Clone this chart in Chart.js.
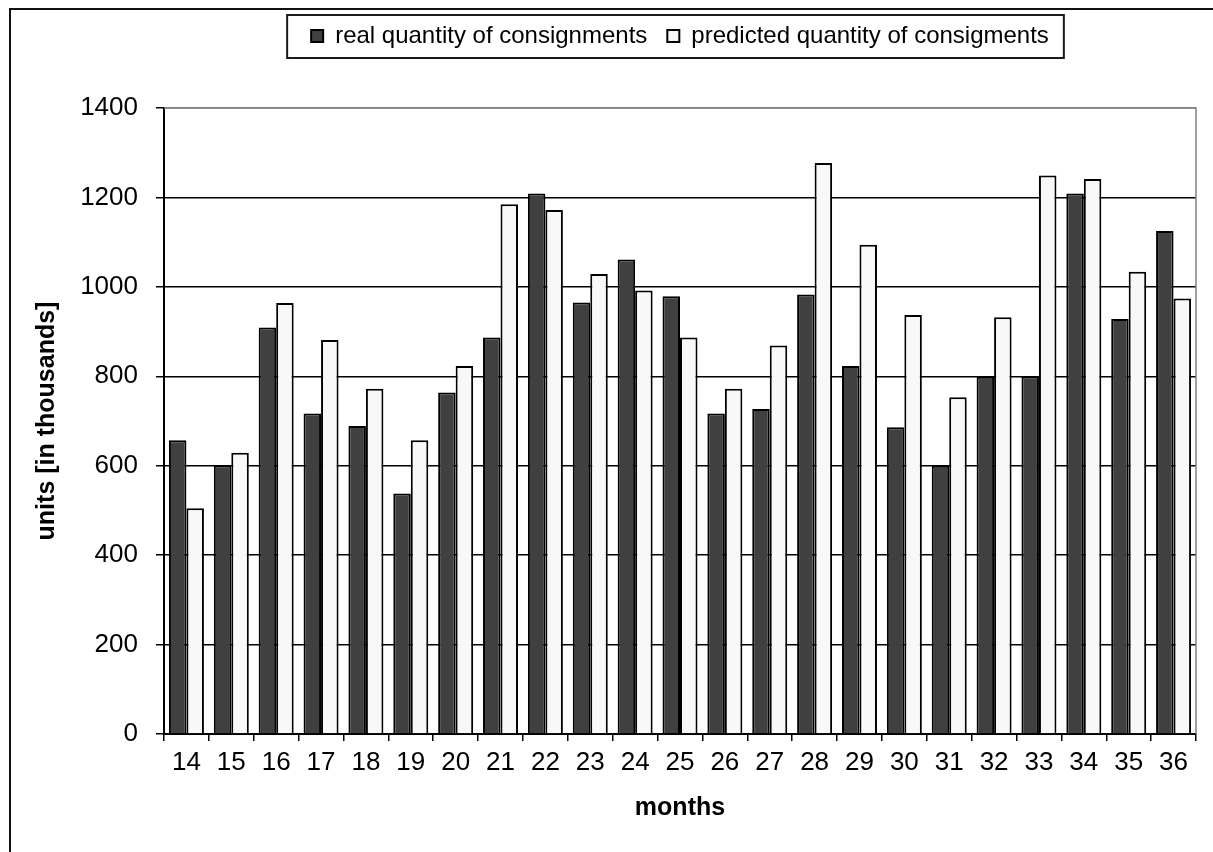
<!DOCTYPE html>
<html>
<head>
<meta charset="utf-8">
<script src="https://cdn.jsdelivr.net/npm/chart.js@4.4.1/dist/chart.umd.min.js"></script>
<style>
  html, body { margin: 0; padding: 0; background: #ffffff; }
  #wrap { position: relative; width: 1213px; height: 852px; }
</style>
</head>
<body>
<div id="wrap"><canvas id="c" width="1213" height="852"></canvas></div>
<script>
// ---- data ----
const months = ['14','15','16','17','18','19','20','21','22','23','24','25','26','27','28','29','30','31','32','33','34','35','36'];
const realQuantity = [657, 601, 909, 717, 689, 538, 764, 887, 1209, 965, 1061, 979, 717, 727, 983, 823, 686, 600, 799, 800, 1209, 928, 1125];
const predictedQuantity = [505, 629, 964, 881, 772, 657, 823, 1185, 1172, 1029, 992, 887, 772, 869, 1277, 1094, 937, 753, 932, 1249, 1241, 1034, 974];
const seriesLabels = ['real quantity of consignments', 'predicted quantity of consigments'];
const yTickMin = 0;
const yTickMax = 1400;
const yTickStep = 200;
const axisTitles = { x: 'months', y: 'units [in thousands]' };

// ---- layout constants ----
const PAD = { left: 12, right: 17, top: 4, bottom: 0 };
const PLOT = { left: 164, right: 1196, top: 108, bottom: 734 };
const FONT = "'Liberation Sans', Arial, sans-serif";

const decorPlugin = {
  id: 'decor',
  beforeLayout(chart) {
    const lg = chart.legend;
    if (lg && !lg._patchedFit) {
      const origFit = Object.getPrototypeOf(lg).fit;
      lg.fit = function () {
        origFit.call(this);
        if (this.options.display) this.height = PLOT.top - PAD.top;
      };
      lg._patchedFit = true;
    }
  },
  afterDraw(chart) {
    const ctx = chart.ctx;
    const ca = chart.chartArea;
    ctx.save();
    // plot area top/right border (gray)
    ctx.strokeStyle = '#808080';
    ctx.lineWidth = 1.5;
    ctx.beginPath();
    ctx.moveTo(ca.left, ca.top);
    ctx.lineTo(ca.right, ca.top);
    ctx.lineTo(ca.right, ca.bottom);
    ctx.stroke();
    // legend frame
    const lg = chart.legend;
    if (lg && lg.legendHitBoxes && lg.legendHitBoxes.length) {
      const hb = lg.legendHitBoxes;
      let l = Infinity, r = -Infinity, t = Infinity, b = -Infinity;
      hb.forEach(h => {
        l = Math.min(l, h.left); r = Math.max(r, h.left + h.width);
        t = Math.min(t, h.top); b = Math.max(b, h.top + h.height);
      });
      ctx.strokeStyle = '#1a1a1a';
      ctx.lineWidth = 2;
      ctx.strokeRect(l - 24, t - 9, (r + 15) - (l - 24), (b + 10) - (t - 9));
    }
    // outer chart frame (runs off the right and bottom edges)
    ctx.strokeStyle = '#111';
    ctx.lineWidth = 2;
    ctx.strokeRect(10, 9, 1400, 1000);
    ctx.restore();
  }
};

new Chart(document.getElementById('c'), {
  type: 'bar',
  data: {
    labels: months,
    datasets: [
      {
        label: seriesLabels[0],
        data: realQuantity,
        backgroundColor: '#404040',
        borderColor: '#000000',
        borderWidth: 2,
        categoryPercentage: 0.78,
        barPercentage: 1.0
      },
      {
        label: seriesLabels[1],
        data: predictedQuantity,
        backgroundColor: '#f8f8f8',
        borderColor: '#000000',
        borderWidth: 2,
        categoryPercentage: 0.78,
        barPercentage: 1.0
      }
    ]
  },
  options: {
    responsive: false,
    animation: false,
    devicePixelRatio: 1,
    layout: { padding: PAD },
    plugins: {
      tooltip: { enabled: false },
      legend: {
        display: true,
        position: 'top',
        fullSize: false,
        align: 'center',
        labels: {
          font: { family: FONT, size: 24 },
          color: '#000',
          boxWidth: 12,
          boxHeight: 12,
          padding: 20
        }
      }
    },
    scales: {
      x: {
        offset: true,
        afterFit(s) { s.height = 852 - PLOT.bottom - PAD.bottom; },
        grid: {
          display: true,
          offset: true,
          drawOnChartArea: false,
          drawTicks: true,
          tickLength: 7,
          color: '#000',
          lineWidth: 1.5
        },
        border: { display: true, color: '#000', width: 2 },
        ticks: {
          font: { family: FONT, size: 26 },
          color: '#000',
          padding: 6,
          maxRotation: 0,
          autoSkip: false
        },
        title: {
          display: true,
          text: axisTitles.x,
          font: { family: FONT, size: 25, weight: 'bold' },
          color: '#000',
          padding: { top: 0, bottom: 29 }
        }
      },
      y: {
        min: yTickMin,
        max: yTickMax,
        afterFit(s) { s.width = PLOT.left - PAD.left; },
        grid: {
          display: true,
          drawOnChartArea: true,
          drawTicks: true,
          tickLength: 8,
          color: (c) => (c.tick && c.tick.value === yTickMax) ? '#808080' : '#000',
          tickColor: '#000',
          lineWidth: 1.5
        },
        border: { display: true, color: '#000', width: 2 },
        ticks: {
          stepSize: yTickStep,
          font: { family: FONT, size: 26 },
          color: '#000',
          padding: 18,
          callback: (v) => String(v)
        },
        title: {
          display: true,
          text: axisTitles.y,
          font: { family: FONT, size: 25, weight: 'bold' },
          color: '#000',
          padding: { top: 20, bottom: 0 }
        }
      }
    }
  },
  plugins: [decorPlugin]
});
</script>
</body>
</html>
